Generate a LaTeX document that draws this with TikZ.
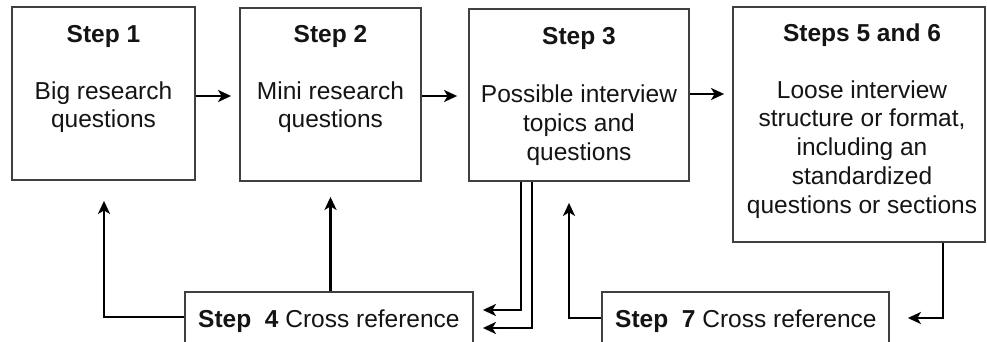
\documentclass[tikz,border=0pt]{standalone}
\usepackage{fontspec}
\setmainfont{Liberation Sans}
\usetikzlibrary{arrows.meta,calc}
\begin{document}
\begin{tikzpicture}[x=1pt,y=-1pt,
  box/.style={draw=black!75,line width=1.8pt,rectangle,inner sep=0pt},
  txt/.style={text=black!92,inner sep=0pt,font=\fontsize{24.5}{28.7}\selectfont,align=center,anchor=base},
  ttl/.style={txt,font=\fontsize{24.5}{28.7}\selectfont\bfseries},
  arr/.style={draw=black,line width=2.6pt,-{Stealth[length=13pt,width=12pt,inset=3.5pt]}}]
\useasboundingbox (0,0) rectangle (987,342);
\clip (0,0) rectangle (987,342);
% boxes
\node[box,minimum width=183pt,minimum height=173pt] (b1) at (103.5,93.5) {};
\node[box,minimum width=181pt,minimum height=173pt] (b2) at (330.5,94.5) {};
\node[box,minimum width=220pt,minimum height=172pt] (b3) at (579,95) {};
\node[box,minimum width=252pt,minimum height=235pt] (b4) at (859,124.5) {};
\node[box,minimum width=288pt,minimum height=68pt] (s4) at (329,326) {};
\node[box,minimum width=287pt,minimum height=68pt] (s7) at (745.5,326) {};
% titles
\node[ttl] (t1) at (103.5,43) {Step 1};
\node[ttl] (t2) at (330.5,43) {Step 2};
\node[ttl] (t3) at (579,45) {Step 3};
\node[ttl] (t4) at (862,42) {Steps 5 and 6};
% bodies (anchor base = last line)
\node[txt] (c1) at (103.5,128) {Big research\\questions};
\node[txt] (c2) at (330.5,128) {Mini research\\questions};
\node[txt] (c3) at (579,160) {Possible interview\\topics and\\questions};
\node[txt] (c4) at (862,213) {Loose interview\\structure or format,\\including an\\standardized\\questions or sections};
\node[txt,anchor=base west] (c5) at (198,327) {\textbf{Step\ \ 4} Cross reference};
\node[txt,anchor=base west] (c6) at (615,327) {\textbf{Step\ \ 7} Cross reference};
% arrows
\draw[arr,shorten >=1pt] (b1.east |- 0,96) -- ($(b2.west |- 0,96)+(-7,0)$);
\draw[arr,shorten >=1pt] (b2.east |- 0,96) -- ($(b3.west |- 0,96)+(-10,0)$);
\draw[arr,shorten >=1pt] (b3.east |- 0,94) -- ($(b4.west |- 0,94)+(-7,0)$);
\draw[arr] (s4.west |- 0,317) -| ($(b1.south)+(0.5,20)$);
\draw[arr] (b2.south |- s4.north) -- ($(b2.south)+(0,15)$);
\draw[arr] (b3.south -| 521,0) |- ($(s4.east |- 0,310)+(9,0)$);
\draw[arr] (b3.south -| 532,0) |- ($(s4.east |- 0,328)+(9,0)$);
\draw[arr] (s7.west |- 0,318) -| ($(b3.south -| 569,0)+(0,21)$);
\draw[arr] (b4.south -| 943,0) |- ($(s7.east |- 0,318)+(18,0)$);
\end{tikzpicture}
\end{document}
